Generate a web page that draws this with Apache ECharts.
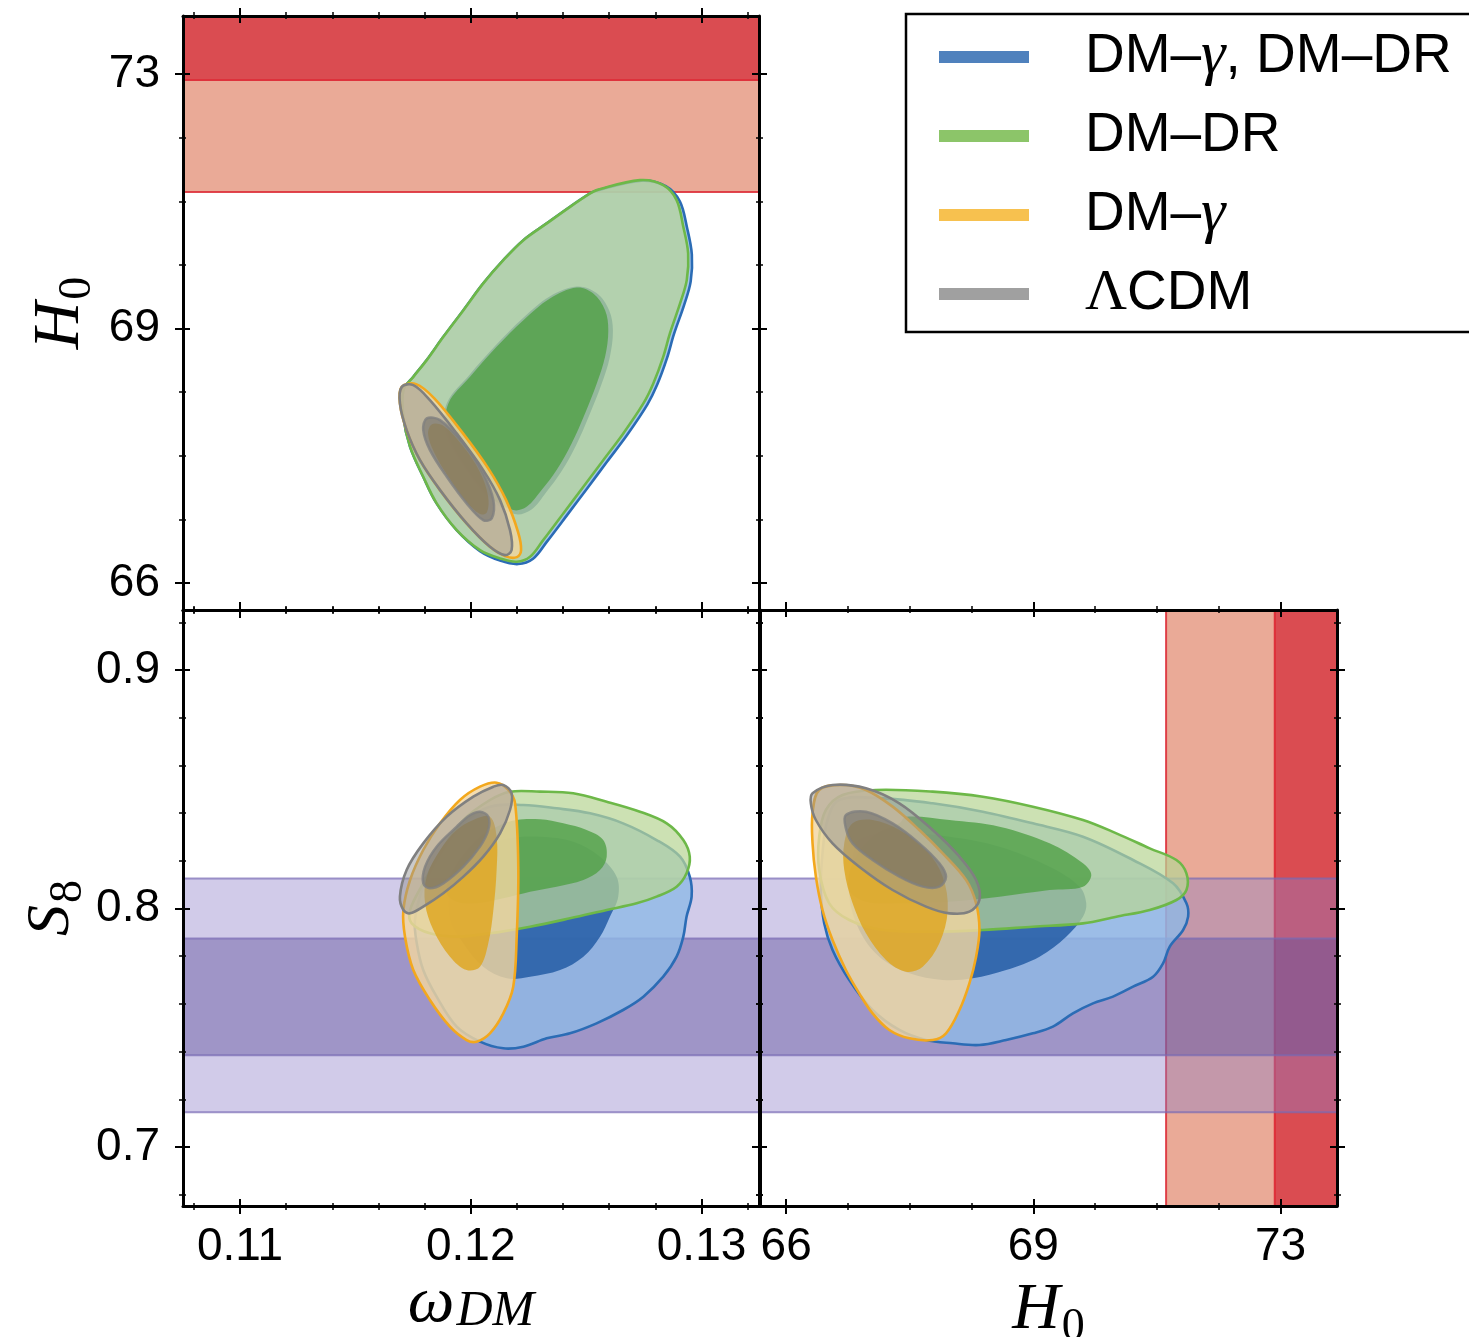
<!DOCTYPE html>
<html>
<head>
<meta charset="utf-8">
<script src="https://cdn.jsdelivr.net/npm/echarts@6/dist/echarts.min.js"></script>
<style>
  html, body { margin: 0; padding: 0; background: #fff; }
  #chart { width: 1469px; height: 1337px; }
</style>
</head>
<body>
<div id="chart"></div>
<script>
// ---- axis ranges and ticks ----
var omegaRange = [0.10753, 0.13249];
var h0Range = [65.63, 73.80];
var s8Range = [0.67526, 0.92516];

var omegaTicks = [0.11, 0.12, 0.13];
var omegaTickLabels = ['0.11', '0.12', '0.13'];
var omegaMinor = [0.108, 0.112, 0.114, 0.116, 0.118, 0.122, 0.124, 0.126, 0.128, 0.132];

var h0Ticks = [66, 69.5, 73];
var h0TickLabels = ['66', '69', '73'];
var h0Minor = [66.875, 67.75, 68.625, 70.375, 71.25, 72.125];

var s8Ticks = [0.7, 0.8, 0.9];
var s8TickLabels = ['0.7', '0.8', '0.9'];
var s8Minor = [0.68, 0.72, 0.74, 0.76, 0.78, 0.82, 0.84, 0.86, 0.88, 0.92];

// ---- external priors (bands) ----
var h0Band2 = [71.38, 72.92];   // light
var h0Band1 = [72.92, 74.60];   // dark
var s8Band2 = [0.7146, 0.8126]; // light
var s8Band1 = [0.7385, 0.7874]; // dark

// ---- contours: omega_DM vs H0 ----
var tlBlueOuter = [[0.12546,71.40],[0.12740,71.535],[0.12845,71.46],[0.12906,71.25],[0.12937,70.89],[0.12958,70.52],[0.12953,70.15],[0.12925,69.83],[0.12880,69.42],[0.12851,69.10],[0.12808,68.73],[0.12765,68.455],[0.12678,68.04],[0.12591,67.672],[0.12505,67.305],[0.12418,66.938],[0.12330,66.57],[0.12270,66.335],[0.12205,66.262],[0.12127,66.31],[0.12040,66.44],[0.11939,66.729],[0.11852,67.096],[0.11794,67.462],[0.11737,67.874],[0.11708,68.287],[0.11708,68.654],[0.11751,68.837],[0.11809,69.067],[0.11881,69.387],[0.11968,69.754],[0.12054,70.122],[0.12141,70.442],[0.12228,70.717],[0.12329,70.947],[0.12430,71.175],[0.12517,71.359]];
var tlBlueInner = [[0.12459,70.08],[0.12545,69.99],[0.12600,69.75],[0.12616,69.47],[0.12602,69.10],[0.12566,68.73],[0.12515,68.32],[0.12457,67.90],[0.12392,67.53],[0.12327,67.25],[0.12262,67.01],[0.12190,66.95],[0.12083,67.16],[0.11968,67.62],[0.11890,68.10],[0.11897,68.48],[0.11993,68.86],[0.12108,69.27],[0.12224,69.64],[0.12340,69.94]];
var tlGreenOuter = [[0.12546,71.405],[0.12733,71.542],[0.12834,71.473],[0.12892,71.267],[0.12921,70.900],[0.12942,70.534],[0.12936,70.167],[0.12907,69.846],[0.12863,69.434],[0.12834,69.112],[0.12791,68.746],[0.12748,68.471],[0.12661,68.059],[0.12574,67.691],[0.12488,67.324],[0.12401,66.958],[0.12314,66.591],[0.12257,66.361],[0.12199,66.293],[0.12127,66.339],[0.12040,66.454],[0.11939,66.729],[0.11852,67.096],[0.11794,67.462],[0.11737,67.874],[0.11708,68.287],[0.11708,68.654],[0.11751,68.837],[0.11809,69.067],[0.11881,69.387],[0.11968,69.754],[0.12054,70.122],[0.12141,70.442],[0.12228,70.717],[0.12329,70.947],[0.12430,71.175],[0.12517,71.359]];
var tlGreenInner = [[0.12459,70.066],[0.12531,69.984],[0.12582,69.754],[0.12596,69.479],[0.12582,69.112],[0.12546,68.746],[0.12495,68.334],[0.12437,67.921],[0.12372,67.554],[0.12307,67.279],[0.12242,67.049],[0.12184,67.004],[0.12083,67.187],[0.11968,67.646],[0.11896,68.104],[0.11903,68.471],[0.11997,68.837],[0.12112,69.250],[0.12228,69.617],[0.12343,69.915]];
var tlOrangeOuter = [[0.11701,68.699],[0.11763,68.737],[0.11841,68.544],[0.11962,68.076],[0.12075,67.581],[0.12153,67.141],[0.12205,66.701],[0.12218,66.454],[0.12200,66.357],[0.12148,66.371],[0.12083,66.499],[0.11982,66.821],[0.11867,67.279],[0.11780,67.691],[0.11722,68.104],[0.11693,68.471]];
var tlOrangeInner = [[0.11832,68.186],[0.11884,68.159],[0.11966,67.884],[0.12040,67.526],[0.12075,67.196],[0.12070,66.976],[0.12040,66.949],[0.11975,67.141],[0.11901,67.472],[0.11841,67.801],[0.11815,68.049]];
var tlGrayOuter = [[0.11701,68.699],[0.11751,68.723],[0.11823,68.517],[0.11939,68.059],[0.12054,67.554],[0.12127,67.141],[0.12170,66.729],[0.12177,66.454],[0.12148,66.385],[0.12083,66.499],[0.11982,66.821],[0.11867,67.279],[0.11780,67.691],[0.11722,68.104],[0.11693,68.471]];
var tlGrayInner = [[0.11809,68.265],[0.11867,68.242],[0.11968,67.921],[0.12054,67.508],[0.12098,67.141],[0.12091,66.890],[0.12054,66.866],[0.11982,67.096],[0.11896,67.462],[0.11823,67.829],[0.11794,68.104]];

// ---- contours: omega_DM vs S8 ----
var blBlueOuter = [[0.12083,0.8427],[0.12228,0.8434],[0.12372,0.8420],[0.12517,0.8399],[0.12660,0.83571],[0.12805,0.82872],[0.12907,0.82173],[0.12949,0.81335],[0.12957,0.80496],[0.12935,0.79658],[0.12921,0.78819],[0.12892,0.7798],[0.12834,0.77142],[0.12748,0.76303],[0.12660,0.75744],[0.12545,0.75185],[0.1243,0.74766],[0.12329,0.74556],[0.12228,0.74207],[0.12141,0.74137],[0.1204,0.74416],[0.11939,0.75045],[0.11852,0.76303],[0.11794,0.77421],[0.11766,0.7854],[0.11758,0.79518],[0.11794,0.80917],[0.11867,0.82313],[0.11968,0.83571]];
var blBlueInner = [[0.11924,0.81195],[0.12025,0.82453],[0.1217,0.82942],[0.123,0.83012],[0.12444,0.82802],[0.1256,0.82173],[0.12632,0.81335],[0.12639,0.80496],[0.12603,0.79658],[0.1256,0.78819],[0.12488,0.7798],[0.12387,0.77421],[0.12257,0.77142],[0.12156,0.77072],[0.12054,0.77561],[0.11968,0.7854],[0.1191,0.79658]];
var blGreenOuter = [[0.12083,0.84549],[0.1217,0.84899],[0.123,0.84899],[0.12444,0.84829],[0.12589,0.84479],[0.12733,0.8406],[0.12849,0.83571],[0.12921,0.82872],[0.12949,0.82173],[0.12935,0.81475],[0.12892,0.80916],[0.12805,0.80496],[0.12719,0.80217],[0.12589,0.79937],[0.1243,0.79588],[0.12257,0.79238],[0.12083,0.78959],[0.11939,0.78819],[0.11823,0.78959],[0.11744,0.79378],[0.11737,0.79937],[0.11794,0.81055],[0.11867,0.82313],[0.11968,0.83711]];
var blGreenInner = [[0.12199,0.83711],[0.123,0.83739],[0.12401,0.83571],[0.12502,0.83291],[0.12574,0.82872],[0.12589,0.82173],[0.1256,0.81614],[0.12488,0.81195],[0.12372,0.80916],[0.12257,0.80706],[0.12141,0.80426],[0.12025,0.80217],[0.11939,0.80287],[0.11896,0.80636],[0.11924,0.81614],[0.12025,0.82872],[0.12112,0.83431]];
var blOrangeOuter = [[0.12112,0.85276],[0.12163,0.84969],[0.12192,0.8441],[0.12206,0.81614],[0.12199,0.78819],[0.12184,0.76723],[0.12141,0.75604],[0.12083,0.74766],[0.12025,0.74416],[0.11982,0.74486],[0.1191,0.75045],[0.11823,0.76164],[0.11751,0.77421],[0.11715,0.78819],[0.11708,0.79937],[0.11737,0.81195],[0.11794,0.82453],[0.11867,0.83571],[0.11953,0.84549],[0.1204,0.85108]];
var blOrangeInner = [[0.12011,0.83711],[0.12083,0.83851],[0.12112,0.83012],[0.12112,0.81614],[0.12098,0.79937],[0.12076,0.7854],[0.1204,0.77561],[0.11982,0.77421],[0.1191,0.7798],[0.11838,0.79099],[0.11802,0.80217],[0.11809,0.81335],[0.11867,0.82453],[0.11939,0.83291]];
var blGrayOuter = [[0.12141,0.85178],[0.12177,0.84829],[0.1217,0.8413],[0.12127,0.83152],[0.12054,0.82173],[0.11968,0.81335],[0.11881,0.80636],[0.11794,0.80077],[0.11737,0.79797],[0.11708,0.79937],[0.11693,0.80496],[0.11722,0.81614],[0.11794,0.82732],[0.11896,0.83851],[0.12011,0.84689],[0.12098,0.85108]];
var blGrayInner = [[0.1204,0.8406],[0.12076,0.83851],[0.12076,0.83291],[0.1204,0.82593],[0.11968,0.81754],[0.11881,0.81055],[0.11823,0.80846],[0.11794,0.81055],[0.11802,0.81754],[0.11852,0.82593],[0.11939,0.83431],[0.11997,0.8392]];

// ---- contours: H0 vs S8 ----
var brBlueOuter = [[66.752,0.84549],[67.366,0.84619],[68.075,0.8441],[68.785,0.8406],[69.494,0.83571],[70.203,0.83012],[70.912,0.82034],[71.479,0.81055],[71.668,0.80217],[71.692,0.79658],[71.621,0.79099],[71.432,0.784],[71.337,0.77701],[71.196,0.77142],[70.912,0.76723],[70.628,0.76303],[70.345,0.76024],[70.061,0.75604],[69.777,0.75045],[69.494,0.74766],[69.115,0.74486],[68.737,0.74277],[68.359,0.74347],[67.981,0.74486],[67.603,0.74906],[67.224,0.75744],[66.894,0.77002],[66.657,0.7826],[66.539,0.79378],[66.492,0.80776],[66.515,0.82313],[66.586,0.83711]];
var brBlueInner = [[67.035,0.82872],[67.603,0.83152],[68.312,0.83012],[69.021,0.82593],[69.730,0.81754],[70.156,0.80916],[70.250,0.80217],[70.203,0.79658],[69.966,0.78819],[69.588,0.7798],[69.115,0.77421],[68.643,0.77072],[68.217,0.77002],[67.745,0.77281],[67.319,0.7798],[67.035,0.79099],[66.894,0.80496],[66.941,0.81894]];
var brGreenOuter = [[66.799,0.84759],[67.272,0.84969],[68.075,0.84899],[68.785,0.84689],[69.494,0.8427],[70.203,0.83711],[70.676,0.83152],[71.148,0.82523],[71.526,0.82034],[71.668,0.81475],[71.668,0.80776],[71.526,0.80357],[71.148,0.79937],[70.676,0.79658],[70.203,0.79378],[69.494,0.79238],[68.785,0.79099],[68.075,0.79029],[67.366,0.79099],[66.894,0.79518],[66.610,0.80217],[66.468,0.81614],[66.468,0.83012],[66.563,0.84131]];
var brGreenInner = [[67.697,0.83851],[68.312,0.83711],[69.021,0.83431],[69.730,0.82732],[70.203,0.81894],[70.321,0.81405],[70.203,0.80916],[69.730,0.80776],[69.021,0.80496],[68.312,0.80287],[67.603,0.80217],[67.130,0.80287],[66.894,0.80776],[66.941,0.81894],[67.224,0.83012],[67.603,0.83571]];
var brOrangeOuter = [[66.468,0.84969],[66.799,0.85178],[67.130,0.84969],[67.508,0.8427],[67.886,0.83291],[68.217,0.82313],[68.548,0.81195],[68.690,0.80217],[68.737,0.79099],[68.690,0.7798],[68.595,0.76862],[68.454,0.75744],[68.264,0.74766],[68.075,0.74486],[67.745,0.74556],[67.461,0.74906],[67.224,0.75604],[67.035,0.76443],[66.846,0.77421],[66.657,0.78679],[66.515,0.79937],[66.421,0.81335],[66.374,0.82732],[66.374,0.8399]];
var brOrangeInner = [[66.941,0.83571],[67.224,0.83711],[67.603,0.83291],[67.981,0.82453],[68.217,0.81335],[68.288,0.79937],[68.170,0.7854],[67.934,0.77561],[67.697,0.77351],[67.414,0.77841],[67.130,0.78959],[66.941,0.80217],[66.823,0.81614],[66.823,0.82732]];
var brGrayOuter = [[66.374,0.84829],[66.657,0.85178],[67.130,0.85038],[67.603,0.8441],[68.075,0.83291],[68.454,0.82173],[68.690,0.81195],[68.737,0.80357],[68.595,0.79867],[68.312,0.79797],[67.981,0.80077],[67.508,0.80776],[67.035,0.81754],[66.657,0.82732],[66.421,0.83711],[66.350,0.8441]];
var brGrayInner = [[66.846,0.8392],[67.130,0.8406],[67.508,0.83571],[67.886,0.82732],[68.170,0.81894],[68.264,0.81335],[68.170,0.80916],[67.934,0.80916],[67.603,0.81335],[67.224,0.82034],[66.941,0.82732],[66.846,0.83361]];

// ---- styles ----
var models = [
  {name: 'DM–γ, DM–DR', legend: '#4f81bd', line: '#2b6cb5', outer: 'rgba(143,185,230,0.8)', inner: 'rgba(35,92,165,0.85)'},
  {name: 'DM–DR', legend: '#8cc569', line: '#6db848', outer: 'rgba(185,214,150,0.72)', inner: 'rgba(80,160,70,0.8)'},
  {name: 'DM–γ', legend: '#f7c14f', line: '#f3a81d', outer: 'rgba(242,214,160,0.82)', inner: 'rgba(222,165,30,0.82)'},
  {name: 'ΛCDM', legend: '#a0a0a0', line: '#808080', outer: 'rgba(150,150,150,0.5)', inner: 'rgba(95,95,95,0.5)'}
];
var legendRich = {
  'DM–γ, DM–DR': '{t|DM–}{g|γ}{t|, DM–DR}',
  'DM–DR': '{t|DM–DR}',
  'DM–γ': '{t|DM–}{g|γ}',
  'ΛCDM': '{L|Λ}{t|CDM}'
};
var redStyles = [
  {fill: 'rgba(218,105,72,0.57)', stroke: 'rgba(222,50,60,0.9)'},
  {fill: 'rgba(212,45,50,0.85)', stroke: 'rgba(222,50,60,0.9)'}
];
var purpleStyles = [
  {fill: 'rgba(140,125,200,0.40)', stroke: 'rgba(120,105,180,0.7)'},
  {fill: 'rgba(100,85,160,0.46)', stroke: 'rgba(120,105,180,0.7)'}
];

function labelFor(v, ticks, labels) {
  for (var i = 0; i < ticks.length; i++) {
    if (Math.abs(ticks[i] - v) < 1e-9) return labels[i];
  }
  return '';
}

function tickAxis(gridIndex, side, range, values, offset, len, w) {
  return {
    type: 'value', gridIndex: gridIndex, position: side, offset: offset, z: 10,
    min: range[0], max: range[1],
    axisLine: {show: false, onZero: false},
    splitLine: {show: false},
    axisLabel: {show: false},
    axisTick: {show: true, inside: false, length: len, customValues: values,
      lineStyle: {color: '#000', width: w}}
  };
}

// frame line + labels at offset 0, then major/minor ticks pushed inward so they cross the frame
function addAxes(list, dim, gridIndex, range, majors, minors, labels, labelSide, nameText, nameGap, nameRich) {
  var sides = dim === 'x' ? ['bottom', 'top'] : ['left', 'right'];
  var first = list.length;
  sides.forEach(function (side) {
    var lab = side === labelSide;
    list.push({
      type: 'value', gridIndex: gridIndex, position: side, offset: 0, z: 10,
      min: range[0], max: range[1],
      axisLine: {show: true, onZero: false, lineStyle: {color: '#000', width: 3}},
      axisTick: {show: false},
      splitLine: {show: false},
      axisLabel: {
        show: lab, customValues: majors, margin: dim === 'x' ? 18 : 23,
        fontSize: 46, fontFamily: 'Liberation Sans', color: '#000',
        formatter: function (v) { return labelFor(v, majors, labels); }
      },
      name: lab && nameText ? nameText : '',
      nameLocation: 'middle', nameGap: nameGap, nameRotate: dim === 'y' ? 90 : 0,
      nameTextStyle: {color: '#000', rich: nameRich || {}}
    });
    list.push(tickAxis(gridIndex, side, range, majors, -7, 15, 2));
    list.push(tickAxis(gridIndex, side, range, minors, -3, 7, 1.5));
  });
  return first;
}

var richH0 = {
  m: {fontFamily: 'Liberation Serif', fontStyle: 'italic', fontSize: 66, lineHeight: 66, color: '#000'},
  s: {fontFamily: 'Liberation Serif', fontSize: 46, lineHeight: 46, padding: [34, 0, 0, 2], color: '#000'}
};
var richS8 = {
  m: {fontFamily: 'Liberation Serif', fontStyle: 'italic', fontSize: 62, lineHeight: 62, color: '#000'},
  s: {fontFamily: 'Liberation Serif', fontSize: 46, lineHeight: 46, padding: [34, 0, 0, 2], color: '#000'}
};
var richOmega = {
  m: {fontFamily: 'Liberation Serif', fontStyle: 'italic', fontSize: 66, lineHeight: 66, color: '#000'},
  s: {fontFamily: 'Liberation Serif', fontStyle: 'italic', fontSize: 50, lineHeight: 50, padding: [16, 0, 0, 2], color: '#000'}
};

var xAxes = [], yAxes = [];
var tlX = addAxes(xAxes, 'x', 0, omegaRange, omegaTicks, omegaMinor, omegaTickLabels, 'none');
var tlY = addAxes(yAxes, 'y', 0, h0Range, h0Ticks, h0Minor, h0TickLabels, 'left', '{m|H}{s|0}', 89, richH0);
var blX = addAxes(xAxes, 'x', 1, omegaRange, omegaTicks, omegaMinor, omegaTickLabels, 'bottom', '{m|ω}{s|DM}', 43, richOmega);
var blY = addAxes(yAxes, 'y', 1, s8Range, s8Ticks, s8Minor, s8TickLabels, 'left', '{m|S}{s|8}', 89, richS8);
var brX = addAxes(xAxes, 'x', 2, h0Range, h0Ticks, h0Minor, h0TickLabels, 'bottom', '{m|H}{s|0}', 54, richH0);
var brY = addAxes(yAxes, 'y', 2, s8Range, s8Ticks, s8Minor, s8TickLabels, 'none');

function bandSeries(name, xi, yi, orient, bands, styles, otherMin) {
  return {
    type: 'custom', name: name, xAxisIndex: xi, yAxisIndex: yi, clip: true, silent: true,
    data: bands, encode: orient === 'h' ? {y: [0, 1]} : {x: [0, 1]},
    renderItem: function (params, api) {
      var cs = params.coordSys;
      var lo = api.value(0), hi = api.value(1);
      var st = styles[params.dataIndex];
      var r;
      if (orient === 'h') {
        var a = api.coord([otherMin, hi]), b = api.coord([otherMin, lo]);
        r = {x: cs.x, y: a[1], width: cs.width, height: b[1] - a[1]};
      } else {
        var c = api.coord([lo, otherMin]), d = api.coord([hi, otherMin]);
        r = {x: c[0], y: cs.y, width: d[0] - c[0], height: cs.height};
      }
      r = echarts.graphic.clipRectByRect(r, {x: cs.x, y: cs.y, width: cs.width, height: cs.height});
      if (!r) return null;
      return {type: 'rect', shape: r, style: {fill: st.fill, stroke: st.stroke, lineWidth: 2}};
    }
  };
}

function contourSeries(model, xi, yi, pts, fill, stroke, lw) {
  return {
    type: 'custom', name: model.name, xAxisIndex: xi, yAxisIndex: yi, clip: true, silent: true,
    itemStyle: {color: model.legend},
    data: pts, encode: {x: 0, y: 1},
    renderItem: function (params, api) {
      if (params.dataIndex !== 0) return null;
      var points = pts.map(function (p) { return api.coord(p); });
      return {
        type: 'polygon',
        shape: {points: points, smooth: 0.35},
        style: {fill: fill, stroke: stroke, lineWidth: lw}
      };
    }
  };
}

var panels = [
  {x: tlX, y: tlY, sets: [[tlBlueOuter, tlBlueInner], [tlGreenOuter, tlGreenInner], [tlOrangeOuter, tlOrangeInner], [tlGrayOuter, tlGrayInner]]},
  {x: blX, y: blY, sets: [[blBlueOuter, blBlueInner], [blGreenOuter, blGreenInner], [blOrangeOuter, blOrangeInner], [blGrayOuter, blGrayInner]]},
  {x: brX, y: brY, sets: [[brBlueOuter, brBlueInner], [brGreenOuter, brGreenInner], [brOrangeOuter, brOrangeInner], [brGrayOuter, brGrayInner]]}
];

var series = [];
series.push(bandSeries('H0 prior', tlX, tlY, 'h', [h0Band2, h0Band1], redStyles, omegaRange[0]));
series.push(bandSeries('S8 prior', blX, blY, 'h', [s8Band2, s8Band1], purpleStyles, omegaRange[0]));
series.push(bandSeries('H0 prior', brX, brY, 'v', [h0Band2, h0Band1], redStyles, s8Range[0]));
series.push(bandSeries('S8 prior', brX, brY, 'h', [s8Band2, s8Band1], purpleStyles, h0Range[0]));

panels.forEach(function (p) {
  p.sets.forEach(function (set, k) {
    var m = models[k];
    series.push(contourSeries(m, p.x, p.y, set[0], m.outer, m.line, 2.6));
    series.push(contourSeries(m, p.x, p.y, set[1], m.inner, k === 3 ? 'rgba(128,128,128,0.8)' : 'rgba(0,0,0,0)', k === 3 ? 2.5 : 0));
  });
});

var chart = echarts.init(document.getElementById('chart'), null, {renderer: 'canvas'});
chart.setOption({
  animation: false,
  backgroundColor: '#fff',
  grid: [
    {left: 183, top: 16, width: 576, height: 594, containLabel: false, outerBoundsMode: 'none'},
    {left: 183, top: 610, width: 576, height: 596, containLabel: false, outerBoundsMode: 'none'},
    {left: 760, top: 610, width: 577, height: 596, containLabel: false, outerBoundsMode: 'none'}
  ],
  xAxis: xAxes,
  yAxis: yAxes,
  legend: {
    left: 906, top: 14, orient: 'vertical', selectedMode: false,
    itemWidth: 90, itemHeight: 12, itemGap: 18, icon: 'rect',
    padding: [12, 40, 8, 33],
    borderColor: '#000', borderWidth: 2.5, backgroundColor: '#fff',
    data: models.map(function (m) { return {name: m.name, itemStyle: {color: m.legend}}; }),
    formatter: function (n) { return legendRich[n]; },
    textStyle: {
      fontSize: 55, fontFamily: 'Liberation Sans', color: '#000', lineHeight: 60,
      padding: [0, 0, 0, 51],
      rich: {
        t: {fontSize: 55, fontFamily: 'Liberation Sans', color: '#000', lineHeight: 60},
        g: {fontSize: 62, fontFamily: 'Liberation Serif', fontStyle: 'italic', color: '#000', lineHeight: 60},
        L: {fontSize: 58, fontFamily: 'Liberation Serif', color: '#000', lineHeight: 60}
      }
    }
  },
  series: series
});
</script>
</body>
</html>
